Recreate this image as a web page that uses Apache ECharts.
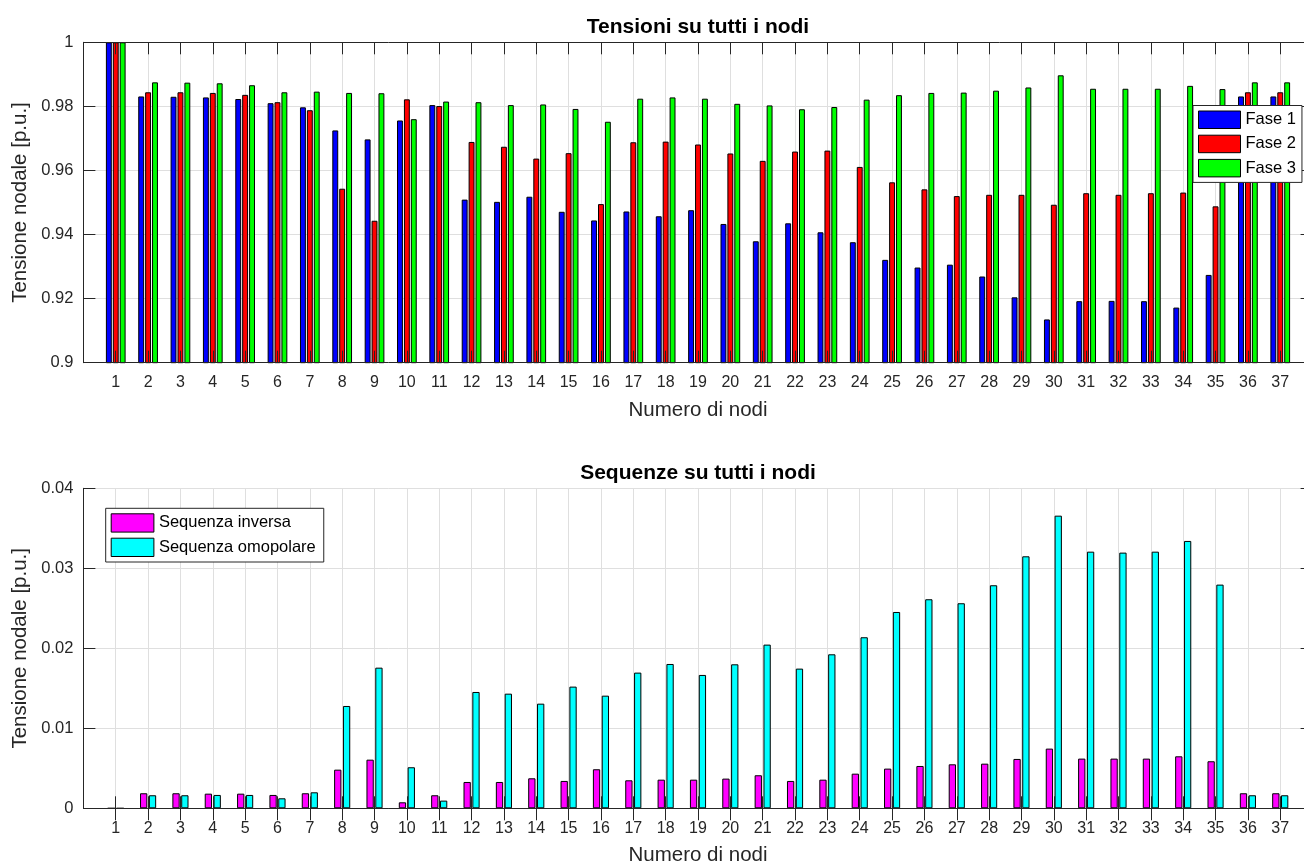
<!DOCTYPE html>
<html><head><meta charset="utf-8">
<script src="https://cdn.jsdelivr.net/npm/echarts@6/dist/echarts.min.js"></script>
<style>html,body{margin:0;padding:0;background:#fff;}#c{width:1304px;height:866px;}</style>
</head><body><div id="c"></div>
<script>
// ---- data ----
const nodes = ['1','2','3','4','5','6','7','8','9','10','11','12','13','14','15','16','17','18','19','20',
  '21','22','23','24','25','26','27','28','29','30','31','32','33','34','35','36','37'];
const fase1 = [1.0, 0.9831, 0.9830, 0.9828, 0.9823, 0.9810, 0.9797, 0.9725, 0.9697, 0.9756, 0.9804, 0.9509,
  0.9502, 0.9518, 0.9471, 0.9444, 0.9472, 0.9457, 0.9476, 0.9433, 0.9379, 0.9435, 0.9407, 0.9376, 0.9321,
  0.9297, 0.9306, 0.9269, 0.9204, 0.9135, 0.9192, 0.9193, 0.9192, 0.9172, 0.9274, 0.9831, 0.9831];
const fase2 = [1.0, 0.9844, 0.9844, 0.9842, 0.9836, 0.9813, 0.9788, 0.9543, 0.9443, 0.9822, 0.9801, 0.9689,
  0.9674, 0.9637, 0.9654, 0.9495, 0.9688, 0.9690, 0.9681, 0.9653, 0.9630, 0.9659, 0.9662, 0.9611, 0.9563,
  0.9541, 0.9520, 0.9524, 0.9524, 0.9493, 0.9529, 0.9524, 0.9529, 0.9531, 0.9488, 0.9844, 0.9844];
const fase3 = [1.0, 0.9875, 0.9874, 0.9872, 0.9866, 0.9844, 0.9846, 0.9842, 0.9841, 0.9760, 0.9815, 0.9813,
  0.9804, 0.9806, 0.9792, 0.9752, 0.9824, 0.9828, 0.9824, 0.9808, 0.9803, 0.9791, 0.9798, 0.9821, 0.9835,
  0.9842, 0.9843, 0.9849, 0.9859, 0.9897, 0.9855, 0.9855, 0.9855, 0.9864, 0.9854, 0.9875, 0.9875];
const seqInversa = [0, 0.00188, 0.00188, 0.00183, 0.00183, 0.00167, 0.00188, 0.00483, 0.00608, 0.00075, 0.00163,
  0.00329, 0.00329, 0.00375, 0.00342, 0.00488, 0.00350, 0.00358, 0.00358, 0.00371, 0.00413, 0.00342, 0.00358,
  0.00433, 0.00496, 0.00529, 0.00550, 0.00558, 0.00617, 0.00746, 0.00621, 0.00621, 0.00621, 0.00650, 0.00588,
  0.00188, 0.00188];
const seqOmopolare = [0, 0.00163, 0.00163, 0.00167, 0.00167, 0.00125, 0.00200, 0.01279, 0.01758, 0.00513, 0.00096,
  0.01454, 0.01433, 0.01308, 0.01521, 0.01408, 0.01696, 0.01804, 0.01667, 0.01800, 0.02046, 0.01746, 0.01925,
  0.02138, 0.02454, 0.02613, 0.02563, 0.02788, 0.03150, 0.03658, 0.03208, 0.03196, 0.03208, 0.03342, 0.02796,
  0.00163, 0.00163];
const yTicksTop = [0.9, 0.92, 0.94, 0.96, 0.98, 1];
const yTicksBottom = [0, 0.01, 0.02, 0.03, 0.04];

// ---- chart ----
const FONT = '"Liberation Sans", Arial, Helvetica, sans-serif';
const INK = '#262626';
const GRIDC = '#dfdfdf';
const cats = [''].concat(nodes, ['']);           // x-limits [0, 38]
const pad = a => [null].concat(a, [null]);
const inner = (i) => i > 0 && i < cats.length - 1;

function xAxes(g) {
  return [
    { type: 'category', gridIndex: g, data: cats, boundaryGap: false, position: 'bottom', z: 3,
      axisLine: { show: true, lineStyle: { color: INK, width: 1 } },
      axisTick: { show: true, inside: true, length: 12, interval: inner, lineStyle: { color: INK, width: 1 } },
      axisLabel: { show: true, interval: inner, color: INK, fontSize: 16, margin: 12, fontFamily: FONT },
      splitLine: { show: false },
      name: 'Numero di nodi', nameLocation: 'middle', nameGap: 37,
      nameTextStyle: { fontSize: 20.5, color: INK, fontFamily: FONT } },
    { type: 'category', gridIndex: g, data: cats, boundaryGap: false, position: 'top', z: 3,
      axisLine: { show: true, lineStyle: { color: INK, width: 1 } },
      axisTick: { show: true, inside: true, length: 12, interval: inner, lineStyle: { color: INK, width: 1 } },
      axisLabel: { show: false }, splitLine: { show: false } },
    { type: 'category', gridIndex: g, data: cats, boundaryGap: false, position: 'bottom',
      axisLine: { show: false }, axisTick: { show: false }, axisLabel: { show: false },
      splitLine: { show: true, interval: inner, lineStyle: { color: GRIDC, width: 1 } } }
  ];
}
function yAxes(g, ticks) {
  const mn = ticks[0], mx = ticks[ticks.length - 1];
  const iv = +(ticks[1] - ticks[0]).toFixed(6);
  return [
    { type: 'value', gridIndex: g, min: mn, max: mx, interval: iv, position: 'left',
      axisLine: { show: true, lineStyle: { color: INK, width: 1 } },
      axisTick: { show: true, inside: true, length: 12, lineStyle: { color: INK, width: 1 } },
      axisLabel: { color: INK, fontSize: 16.5, margin: 10, fontFamily: FONT,
        formatter: v => String(parseFloat((+v).toFixed(4))) },
      splitLine: { show: true, lineStyle: { color: GRIDC, width: 1 } },
      name: 'Tensione nodale [p.u.]', nameLocation: 'middle', nameGap: 50,
      nameTextStyle: { fontSize: 20.5, color: INK, fontFamily: FONT } },
    { type: 'value', gridIndex: g, min: mn, max: mx, interval: iv, position: 'right', z: 3,
      axisLine: { show: true, lineStyle: { color: INK, width: 1 } },
      axisTick: { show: true, inside: true, length: 12, lineStyle: { color: INK, width: 1 } },
      axisLabel: { show: false }, splitLine: { show: false } }
  ];
}
function bar(name, data, color, xi, yi, w, gap) {
  return { type: 'bar', name, data: pad(data), xAxisIndex: xi, yAxisIndex: yi,
    barWidth: w, barGap: gap, clip: true,
    itemStyle: { color, borderColor: '#000', borderWidth: 1 },
    emphasis: { disabled: true }, animation: false };
}
const legendCommon = { orient: 'vertical', icon: 'rect', backgroundColor: '#fff', borderColor: INK, borderWidth: 1,
  borderRadius: 0, textStyle: { fontSize: 16.5, color: '#000', fontFamily: FONT },
  itemStyle: { borderColor: '#000', borderWidth: 1 }, selectedMode: false };

const option = {
  animation: false,
  textStyle: { fontFamily: FONT },
  title: [
    { text: 'Tensioni su tutti i nodi', left: 693, top: 12, textAlign: 'center',
      textStyle: { fontSize: 21, fontWeight: 'bold', color: '#000', fontFamily: FONT } },
    { text: 'Sequenze su tutti i nodi', left: 693, top: 458, textAlign: 'center',
      textStyle: { fontSize: 21, fontWeight: 'bold', color: '#000', fontFamily: FONT } }
  ],
  grid: [
    { left: 83.4, top: 42.3, width: 1229.2, height: 320.4, containLabel: false, outerBoundsMode: 'none' },
    { left: 83.4, top: 488.3, width: 1229.2, height: 320, containLabel: false, outerBoundsMode: 'none' }
  ],
  xAxis: xAxes(0).concat(xAxes(1)),
  yAxis: yAxes(0, yTicksTop).concat(yAxes(1, yTicksBottom)),
  legend: [
    Object.assign({}, legendCommon, { data: ['Fase 1', 'Fase 2', 'Fase 3'], left: 1193, top: 105.5,
      itemWidth: 42, itemHeight: 17.5, itemGap: 5.7, padding: [5, 6, 5, 5] }),
    Object.assign({}, legendCommon, { data: ['Sequenza inversa', 'Sequenza omopolare'], left: 105.7, top: 508.3,
      itemWidth: 42.7, itemHeight: 18.3, itemGap: 5.1, padding: [5, 8, 5, 5] })
  ],
  series: [
    bar('Fase 1', fase1, '#0000ff', 0, 0, 5.9, '17%'),
    bar('Fase 2', fase2, '#ff0000', 0, 0, 5.9, '17%'),
    bar('Fase 3', fase3, '#00ff00', 0, 0, 5.9, '17%'),
    bar('Sequenza inversa', seqInversa, '#ff00ff', 3, 2, 7.3, '21%'),
    bar('Sequenza omopolare', seqOmopolare, '#00ffff', 3, 2, 7.3, '21%')
  ]
};
const chart = echarts.init(document.getElementById('c'), null, { renderer: 'canvas' });
chart.setOption(option);
</script>
</body></html>
